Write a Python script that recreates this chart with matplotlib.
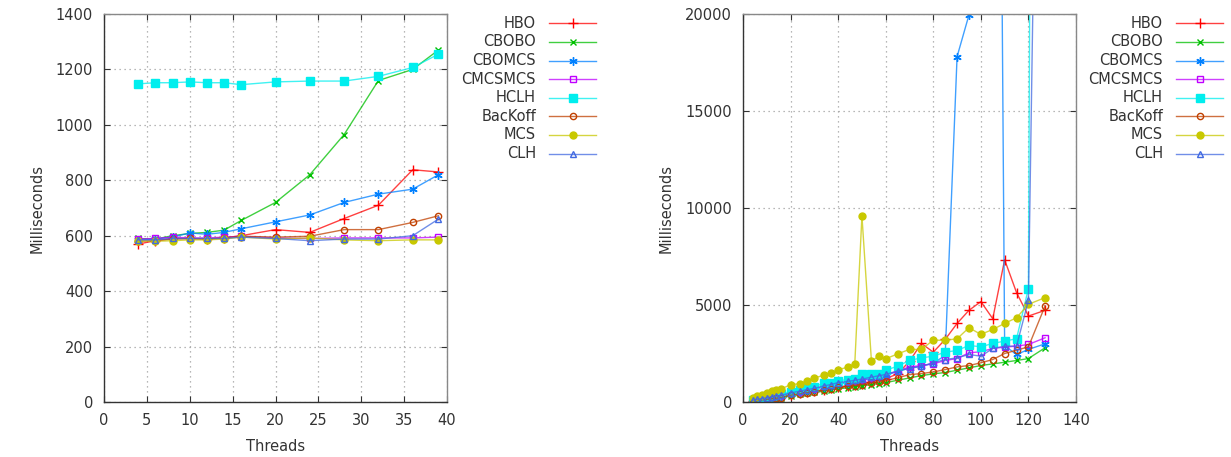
import matplotlib
matplotlib.use("agg")
import matplotlib.pyplot as plt
from matplotlib.lines import Line2D

names = ['HBO', 'CBOBO', 'CBOMCS', 'CMCSMCS', 'HCLH', 'BacKoff', 'MCS', 'CLH']

# left panel: threads 4..39
threads_a = [4, 6, 8, 10, 12, 14, 16, 20, 24, 28, 32, 36, 39]
hbo_a = [570, 582, 590, 590, 588, 592, 600, 622, 612, 662, 710, 838, 830]
cbobo_a = [590, 588, 600, 608, 612, 620, 655, 720, 820, 965, 1160, 1200, 1270]
cbomcs_a = [585, 588, 595, 610, 605, 612, 625, 650, 675, 720, 750, 768, 820]
cmcsmcs_a = [588, 590, 595, 592, 592, 595, 598, 592, 590, 592, 592, 592, 595]
hclh_a = [1148, 1152, 1152, 1155, 1152, 1152, 1145, 1155, 1158, 1158, 1175, 1207, 1255]
backoff_a = [580, 582, 588, 590, 588, 592, 598, 595, 598, 622, 622, 648, 672]
mcs_a = [582, 580, 582, 585, 585, 588, 595, 588, 592, 585, 582, 585, 585]
clh_a = [585, 585, 590, 590, 590, 590, 595, 590, 582, 588, 588, 600, 660]

# right panel: threads 4..127 (values above 20000 run off the top)
threads_b = [4, 6, 8, 10, 12, 14, 16, 20, 24, 27, 30, 34, 37, 40, 44, 47, 50,
             54, 57, 60, 65, 70, 75, 80, 85, 90, 95, 100, 105, 110, 115, 120, 127]
hbo_b = [50, 90, 120, 150, 180, 210, 240, 380, 440, 500, 560, 640, 700, 780,
         830, 890, 950, 1050, 1120, 1200, 1450, 2100,
         3020, 2570, 3225, 4050, 4725, 5175, 4295, 7330, 5640, 4430, 4725]
cbobo_b = [30, 60, 90, 120, 150, 180, 210, 320, 390, 440, 490, 560, 620, 680,
           730, 780, 830, 900, 950, 1000, 1120, 1240,
           1360, 1450, 1520, 1640, 1760, 1880, 1965, 2050, 2140, 2240, 2795]
cbomcs_b = [70, 120, 160, 200, 240, 280, 320, 440, 530, 600, 660, 780, 850, 940,
            1000, 1060, 1120, 1220, 1290, 1380, 1580, 1750,
            1850, 2000, 2400, 17800, 19950, 40000, 87000, 2900, 2450, 2710, 3000]
cmcsmcs_b = [80, 130, 170, 210, 250, 290, 330, 450, 540, 610, 680, 800, 870, 960,
             1030, 1090, 1150, 1250, 1320, 1400, 1600, 1810,
             1880, 1965, 2140, 2240, 2535, 2590, 2760, 2830, 2880, 2965, 3310]
hclh_b = [120, 170, 220, 270, 320, 370, 430, 500, 637, 725, 775, 980, 980, 1100,
          1150, 1205, 1465, 1420, 1465, 1640, 1845, 2140,
          2275, 2360, 2570, 2655, 2915, 2845, 3020, 3140, 3260, 5850, 200000]
backoff_b = [40, 80, 110, 140, 170, 200, 230, 350, 420, 480, 540, 620, 680, 750,
             800, 850, 900, 980, 1030, 1100, 1250, 1410,
             1465, 1550, 1670, 1810, 1880, 2020, 2190, 2500, 2670, 2845, 4950]
mcs_b = [205, 290, 378, 465, 550, 600, 670, 895, 945, 1100, 1240, 1380, 1500, 1670,
         1790, 1980, 9600, 2100, 2360, 2225, 2480, 2710,
         2710, 3190, 3180, 3260, 3830, 3485, 3740, 4050, 4345, 5035, 5380]
clh_b = [90, 140, 180, 220, 260, 300, 340, 470, 560, 640, 700, 830, 900, 1000,
         1060, 1120, 1180, 1280, 1350, 1420, 1600, 1725,
         1845, 2020, 2190, 2275, 2450, 2360, 2760, 2880, 2880, 5240, 62000]

colors = ['#ff0000', '#00c000', '#0080ff', '#c000ff', '#00eeee', '#c04000', '#c8c800', '#4169e1']
markers = ['+', 'x', (6, 2, 0), 's', 's', 'o', 'o', '^']
filled = [True, True, True, False, True, False, True, False]
msizes = [6.5, 5, 6, 5, 5.5, 4.5, 5, 5]

txt = '#333333'
plt.rcParams['font.family'] = 'DejaVu Sans'
plt.rcParams['font.size'] = 10.5

fig = plt.figure(figsize=(12.31, 4.57), dpi=100)
ax1 = fig.add_axes([104 / 1231, 55 / 457, 343 / 1231, 388 / 457])
ax2 = fig.add_axes([743 / 1231, 55 / 457, 333 / 1231, 388 / 457])


def mstyle(i):
    kw = dict(color=colors[i], marker=markers[i], markersize=msizes[i],
              markeredgewidth=1.0, linestyle='none')
    if not filled[i]:
        kw['markerfacecolor'] = 'none'
    return kw


series_a = [hbo_a, cbobo_a, cbomcs_a, cmcsmcs_a, hclh_a, backoff_a, mcs_a, clh_a]
series_b = [hbo_b, cbobo_b, cbomcs_b, cmcsmcs_b, hclh_b, backoff_b, mcs_b, clh_b]

for i in range(8):
    for ax, xs, ys in ((ax1, threads_a, series_a[i]), (ax2, threads_b, series_b[i])):
        ax.plot(xs, ys, color=colors[i], linewidth=1.0, alpha=0.75)
        ax.plot(xs, ys, **mstyle(i))

ax1.set_xlim(0, 40)
ax1.set_ylim(0, 1400)
ax1.set_xticks(range(0, 41, 5))
ax1.set_yticks(range(0, 1401, 200))
ax2.set_xlim(0, 140)
ax2.set_ylim(0, 20000)
ax2.set_xticks(range(0, 141, 20))
ax2.set_yticks(range(0, 20001, 5000))

for ax in (ax1, ax2):
    ax.grid(True, color='#a0a0a0', linestyle=(0, (1, 3)), linewidth=0.9)
    ax.set_axisbelow(True)
    ax.tick_params(direction='in', top=True, right=True, length=4,
                   colors='#333333', labelcolor=txt, pad=8)
    for s in ax.spines.values():
        s.set_color('#333333')
        s.set_linewidth(1.0)
    ax.spines['top'].set_color('#888888')
    ax.spines['right'].set_color('#888888')
    ax.set_xlabel('Threads', color=txt, labelpad=8)
    ax.set_ylabel('Milliseconds', color=txt, labelpad=8)

# legends drawn to the right of each panel, gnuplot style
for tx, lx in ((536, 549), (1163, 1176)):
    for i, nm in enumerate(names):
        yy = 1 - (23.3 + i * 18.6) / 457
        fig.text(tx / 1231, yy, nm, ha='right', va='center', color=txt, fontsize=10.5)
        fig.add_artist(Line2D([lx / 1231, (lx + 47) / 1231], [yy, yy],
                              transform=fig.transFigure, color=colors[i],
                              linewidth=1.0, alpha=0.75))
        fig.add_artist(Line2D([(lx + 23.5) / 1231], [yy], transform=fig.transFigure,
                              **mstyle(i)))

fig.savefig('out.png', dpi=100)
plt.close(fig)
